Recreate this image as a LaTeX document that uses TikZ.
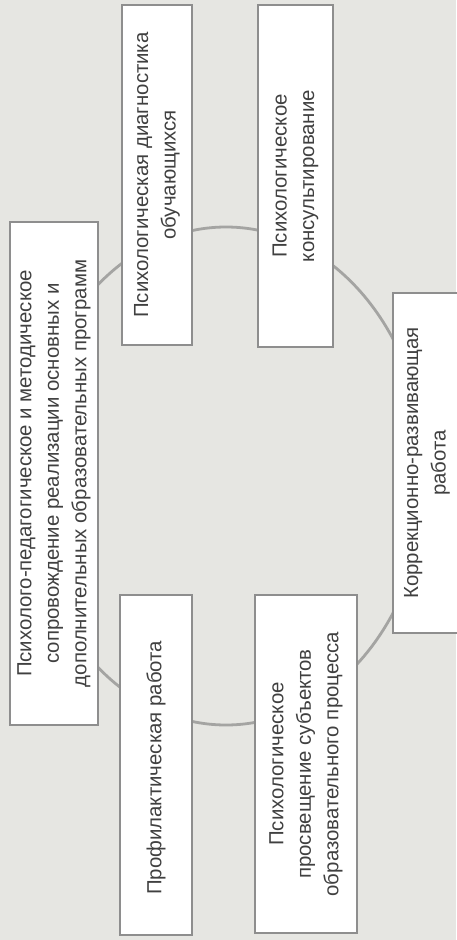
\documentclass[tikz,border=0pt]{standalone}
\usepackage{fontspec}
\setmainfont{Liberation Sans}
\definecolor{fon}{HTML}{E6E6E2}
\definecolor{rama}{HTML}{8E8E8E}
\definecolor{kolco}{HTML}{A4A4A2}
\definecolor{tekst}{HTML}{404040}
\begin{document}
\begin{tikzpicture}[x=1pt,y=-1pt,
        blok/.style={draw=rama,line width=2.8pt,fill=white,rotate=90,align=center,
            text=tekst,inner sep=0pt,font=\fontsize{20.4}{27.5}\selectfont}]
                \fill[fon] (0,0) rectangle (456,940);
                \useasboundingbox (0,0) rectangle (456,940);
                \coordinate (ring) at (226,476);
                \draw[kolco,line width=2.8pt] (ring) ellipse [x radius=200, y radius=249];

                \node[blok,minimum width=340pt,minimum height=70pt] (diag) at (157,175) { Психологическая диагностика\\обучающихся };
                \node[blok,minimum width=342pt,minimum height=75pt] (konsult) at (295.5,176) { Психологическое\\консультирование };
                \node[blok,minimum width=503pt,minimum height=88pt] (soprov) at (54,473.5) { Психолого-педагогическое и методическое\\сопровождение реализации основных и\\дополнительных образовательных программ };
                \node[blok,minimum width=340pt,minimum height=68pt] (korr) at (427,463) { Коррекционно-развивающая\\работа };
                \node[blok,minimum width=340pt,minimum height=72pt] (profil) at (156,765) { Профилактическая работа };
                \node[blok,minimum width=338pt,minimum height=102pt] (prosv) at (306,764) { Психологическое\\просвещение субъектов\\образовательного процесса };
            \end{tikzpicture}
\end{document}
